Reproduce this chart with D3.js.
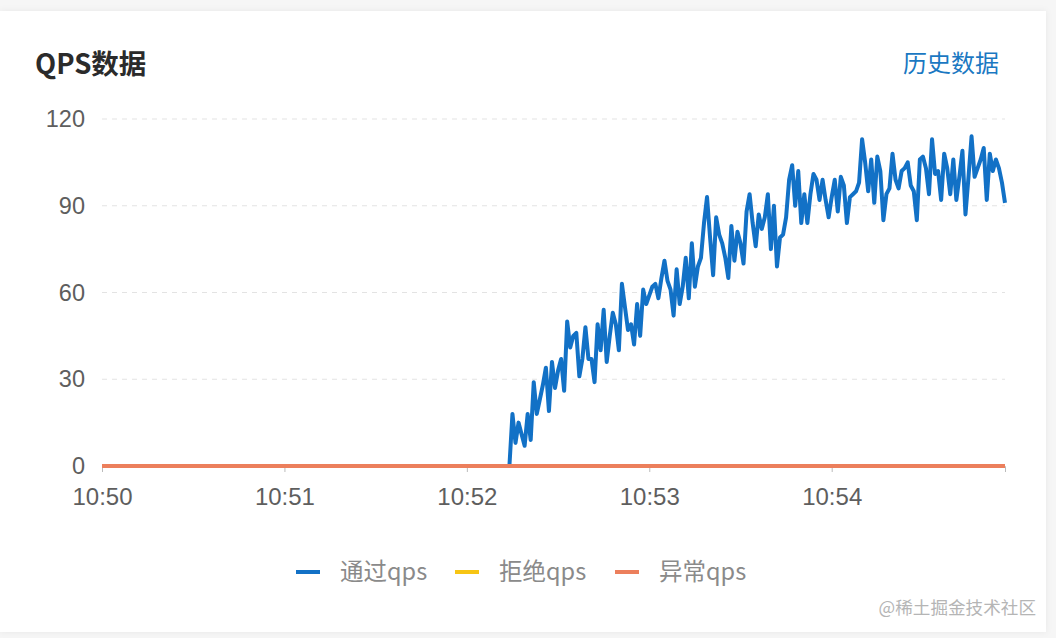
<!DOCTYPE html>
<html>
<head>
<meta charset="utf-8">
<script src="https://cdn.jsdelivr.net/npm/d3@7"></script>
<style>
  html, body { margin: 0; padding: 0; background: #f6f6f6; }
  body { width: 1056px; height: 638px; overflow: hidden; font-family: "Noto Sans CJK SC", "Noto Sans", sans-serif; }
</style>
</head>
<body>
<svg id="chart" width="1056" height="638"></svg>
<script>
// ---------------- data ----------------
const startTime = "10:50:00";      // first sample
const sampleSeconds = 1;           // one sample per second
const sampleCount = 298;           // 10:50:00 .. 10:54:57
const passStartIndex = 134;        // 10:52:14, traffic begins
const passRamp = [
  0, 18, 8, 15, 11, 7, 18, 9, 29, 18, 23, 28, 34, 19, 36, 27, 33, 37, 26, 50, 41, 45, 46, 31, 37, 48, 37,
  37, 29, 49, 40, 54, 36, 45, 53, 49, 40, 63, 55, 47, 49, 42, 56, 45, 61, 56, 59, 62, 63, 58, 65, 71, 64, 61, 52,
  68, 56, 62, 72, 58, 77, 62, 69, 72, 84, 93, 79, 66, 86, 80, 77, 72, 65, 83, 71, 81, 77, 70, 88, 94, 84, 76, 87, 82,
  86, 94, 75, 90, 69, 79, 80, 86, 99, 104, 90, 102, 84, 94, 84, 94, 101, 99, 92, 99, 92, 86, 93, 99, 88, 100, 97,
  84, 93, 94, 95, 98, 113, 105, 95, 106, 91, 107, 102, 85, 94, 96, 108, 99, 96, 102, 103, 105, 97, 95, 85, 106, 107, 103,
  94, 113, 101, 102, 92, 108, 103, 94, 106, 92, 100, 109, 87, 100, 114, 100, 103, 106, 110, 92, 108, 102, 106, 103, 98, 91
];
const passQps = Array(passStartIndex).fill(0).concat(passRamp);
const blockQps = Array(sampleCount).fill(0);
const exceptionQps = Array(sampleCount).fill(0);

const seriesNames = ["通过qps", "拒绝qps", "异常qps"];
const seriesColors = ["#1271c6", "#f7c514", "#ec7f5c"];
const yTicks = [0, 30, 60, 90, 120];
const xTickLabels = ["10:50", "10:51", "10:52", "10:53", "10:54"];
const titleText = "QPS数据";
const linkText = "历史数据";
const watermarkText = "@稀土掘金技术社区";

// ---------------- build ----------------
const parse = d3.timeParse("%H:%M:%S");
const parseHM = d3.timeParse("%H:%M");
const t0 = parse(startTime);
const times = d3.range(sampleCount).map(i => new Date(t0.getTime() + i * sampleSeconds * 1000));
const seriesValues = [passQps, blockQps, exceptionQps];

const svg = d3.select("#chart");
const font = '"Noto Sans CJK SC", "Noto Sans", sans-serif';
const numFont = '"Liberation Sans", "Noto Sans CJK SC", sans-serif';

// card
const defs = svg.append("defs");
const f = defs.append("filter").attr("id", "shadow").attr("x", "-5%").attr("y", "-5%").attr("width", "110%").attr("height", "110%");
f.append("feDropShadow").attr("dx", 0).attr("dy", 0).attr("stdDeviation", 3).attr("flood-color", "#000").attr("flood-opacity", 0.06);
svg.append("rect").attr("x", 0).attr("y", 11).attr("width", 1046).attr("height", 621)
  .attr("fill", "#fff").attr("filter", "url(#shadow)");

const margin = { left: 102, right: 1005, top: 119, bottom: 466 };
const x = d3.scaleTime().domain([times[0], times[times.length - 1]]).range([margin.left, margin.right]);
const y = d3.scaleLinear().domain([0, 120]).range([margin.bottom, margin.top]);

// title
svg.append("text").attr("x", 35).attr("y", 74).text(titleText)
  .attr("font-family", font).attr("font-size", 27.5).attr("font-weight", "bold").attr("fill", "#2b2b2b");
svg.append("text").attr("x", 999).attr("y", 72).attr("text-anchor", "end").text(linkText)
  .attr("font-family", font).attr("font-size", 24).attr("fill", "#1a78c2");

// grid
const grid = svg.append("g");
grid.selectAll("line").data(yTicks.filter(d => d > 0)).join("line")
  .attr("x1", margin.left).attr("x2", margin.right)
  .attr("y1", d => y(d)).attr("y2", d => y(d))
  .attr("stroke", "#e3e3e3").attr("stroke-width", 1).attr("stroke-dasharray", "5,5");

// y axis
const yAxis = svg.append("g").attr("transform", `translate(${margin.left},0)`)
  .call(d3.axisLeft(y).tickValues(yTicks).tickSize(0).tickPadding(17));
yAxis.select(".domain").remove();
yAxis.selectAll("text").attr("font-family", numFont).attr("font-size", 23.5).attr("fill", "#5e5e5e");

// x axis
const xTicks = xTickLabels.map(s => parseHM(s));
const xAxis = svg.append("g").attr("transform", `translate(0,${margin.bottom})`)
  .call(d3.axisBottom(x).tickValues(xTicks).tickFormat(d3.timeFormat("%H:%M")).tickSize(6).tickPadding(16));
xAxis.select(".domain").attr("stroke", "#bbb");
xAxis.selectAll(".tick line").attr("stroke", "#bbb");
xAxis.selectAll("text").attr("font-family", numFont).attr("font-size", 24).attr("fill", "#5e5e5e");

// lines
const line = d3.line().x((d, i) => x(times[i])).y(d => y(d)).curve(d3.curveLinear);
const lineWidths = [4, 4, 4];
seriesValues.forEach((vals, k) => {
  svg.append("path").datum(vals).attr("d", line)
    .attr("fill", "none").attr("stroke", seriesColors[k]).attr("stroke-width", lineWidths[k])
    .attr("stroke-linejoin", "round");
});

// legend
const legendX = [296, 455, 615];
const lg = svg.append("g");
seriesNames.forEach((name, k) => {
  lg.append("line").attr("x1", legendX[k]).attr("x2", legendX[k] + 24)
    .attr("y1", 572).attr("y2", 572).attr("stroke", seriesColors[k]).attr("stroke-width", 4);
  lg.append("text").attr("x", legendX[k] + 44).attr("y", 580).text(name)
    .attr("font-family", font).attr("font-size", 23.5).attr("fill", "#8a8a8a");
});

// watermark
svg.append("text").attr("x", 1036).attr("y", 614).attr("text-anchor", "end").text(watermarkText)
  .attr("font-family", font).attr("font-size", 17.6).attr("fill", "#b5b5b5");
</script>
</body>
</html>
